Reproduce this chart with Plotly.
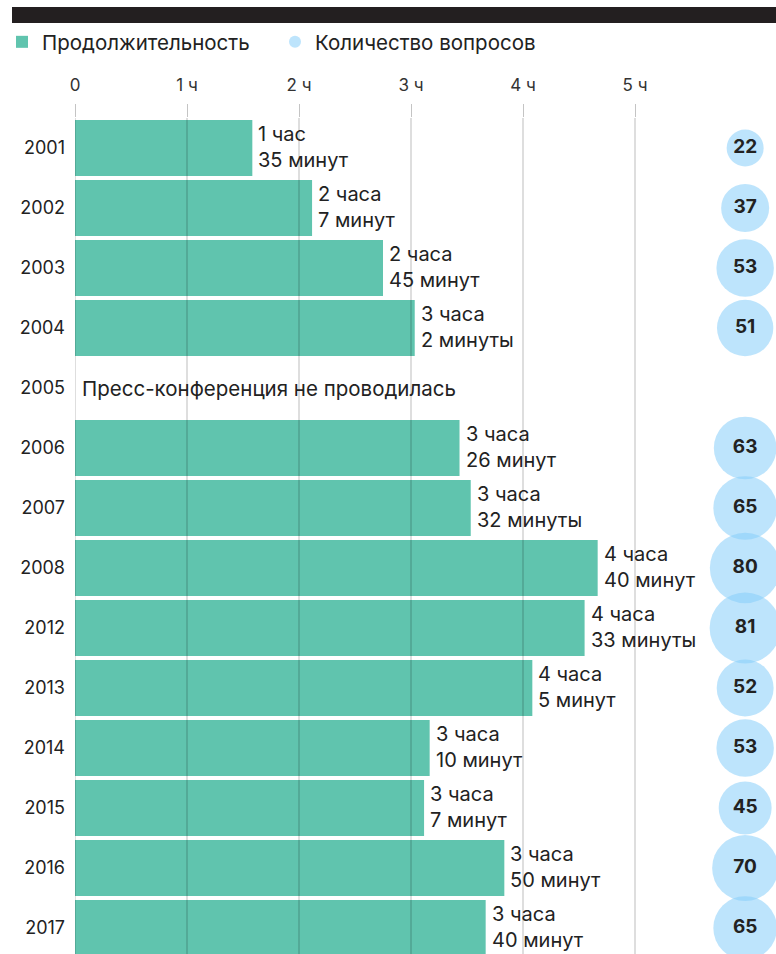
import plotly.graph_objects as go

# ---- data ----
years = ["2001", "2002", "2003", "2004", "2005", "2006", "2007",
         "2008", "2012", "2013", "2014", "2015", "2016", "2017"]
duration_min = [95, 127, 165, 182, None, 206, 212, 280, 273, 245, 190, 187, 230, 220]
questions = [22, 37, 53, 51, None, 63, 65, 80, 81, 52, 53, 45, 70, 65]
x_tick_vals = [0, 1, 2, 3, 4, 5]
x_tick_text = ["0", "1 ч", "2 ч", "3 ч", "4 ч", "5 ч"]
no_event_year = "2005"
no_event_text = "Пресс-конференция не проводилась"
series_names = ["Продолжительность", "Количество вопросов"]

# ---- helpers ----
def plural(n, forms):
    if n % 10 == 1 and n % 100 != 11:
        return forms[0]
    if 2 <= n % 10 <= 4 and not 12 <= n % 100 <= 14:
        return forms[1]
    return forms[2]

def duration_label(total):
    h, m = divmod(total, 60)
    return (f"{h} {plural(h, ('час', 'часа', 'часов'))}<br>"
            f"{m} {plural(m, ('минута', 'минуты', 'минут'))}")

hours = [None if d is None else d / 60 for d in duration_min]

FONT = "Inter, Roboto, 'DejaVu Sans', sans-serif"
TXT = "#222222"
BAR_COLOR = "#60c4ae"
BUBBLE_RGB = "rgb(135,206,250)"

W, H = 776, 954
ML, MT = 75, 118
PX_PER_HOUR = 112
plot_w = W - ML
plot_h = H - MT

def px_x(X):  # window pixel -> paper x
    return (X - ML) / plot_w

def px_y(Y):  # window pixel -> paper y
    return 1 + (MT - Y) / plot_h

fig = go.Figure()

fig.add_trace(go.Bar(
    x=hours, y=years, orientation="h",
    marker=dict(color=BAR_COLOR, line=dict(width=0)),
    name=series_names[0], hoverinfo="x+y",
))

fig.add_trace(go.Scatter(
    x=[None if q is None else 0 for q in questions], y=years,
    xaxis="x2", yaxis="y",
    mode="markers+text",
    marker=dict(size=[0 if q is None else q for q in questions],
                sizemode="area", sizeref=0.0321,
                color=BUBBLE_RGB, opacity=0.55, line=dict(width=0)),
    text=["" if q is None else str(q) for q in questions],
    textposition="middle center",
    textfont=dict(family=FONT, size=19, color=TXT, weight="bold"),
    name=series_names[1], cliponaxis=False,
))

annotations = []
for i, (h, d) in enumerate(zip(hours, duration_min)):
    if d is None:
        continue
    annotations.append(dict(
        x=h, y=i, xref="x", yref="y", text=duration_label(d),
        showarrow=False, xanchor="left", yanchor="middle", xshift=4, yshift=1,
        align="left", font=dict(family=FONT, size=20, color=TXT),
    ))
annotations.append(dict(
    x=0, y=years.index(no_event_year), xref="x", yref="y", text=no_event_text,
    showarrow=False, xanchor="left", yanchor="middle", xshift=5,
    font=dict(family=FONT, size=20.5, color=TXT),
))

shapes = []
for t in x_tick_vals:
    shapes.append(dict(type="line", xref="x", yref="paper", x0=t, x1=t, y0=0, y1=1,
                       line=dict(color="rgba(0,0,0,0.26)", width=1), layer="above"))
# top black band
shapes.append(dict(type="rect", xref="paper", yref="paper",
                   x0=px_x(12), x1=1,
                   y0=px_y(23), y1=px_y(7),
                   fillcolor="#231f20", line=dict(width=0), layer="above"))

fig.update_layout(
    width=W, height=H,
    margin=dict(l=ML, r=0, t=MT, b=0, pad=0),
    paper_bgcolor="white", plot_bgcolor="white",
    font=dict(family=FONT, color=TXT),
    bargap=0.067,
    showlegend=True,
    legend=dict(orientation="h", x=px_x(2), xanchor="left",
                y=px_y(42), yanchor="middle",
                font=dict(family=FONT, size=20.5, color=TXT),
                itemsizing="constant", traceorder="normal",
                entrywidth=228, entrywidthmode="pixels",
                bgcolor="rgba(0,0,0,0)", itemwidth=30),
    xaxis=dict(range=[0, plot_w / PX_PER_HOUR], side="top",
               tickmode="array", tickvals=x_tick_vals, ticktext=x_tick_text,
               showgrid=False, zeroline=False, showline=False,
               ticks="outside", ticklen=13, tickcolor="#c4c4c4", tickwidth=1,
               ticklabelstandoff=6,
               tickfont=dict(family=FONT, size=17, color="#333333")),
    xaxis2=dict(domain=[0.912, 1], range=[-1, 1], anchor="y", visible=False),
    yaxis=dict(type="category", categoryorder="array", categoryarray=years,
               range=[plot_h / 60 - 0.5, -0.5],
               showgrid=False, zeroline=False, showline=False,
               ticks="", ticklabelstandoff=9,
               tickfont=dict(family=FONT, size=18, color=TXT)),
    annotations=annotations,
    shapes=shapes,
)

fig.write_html("out.html",
               config={"displayModeBar": False},
               post_script="document.body.style.margin='0px';"
                           "document.body.style.overflow='hidden';")
